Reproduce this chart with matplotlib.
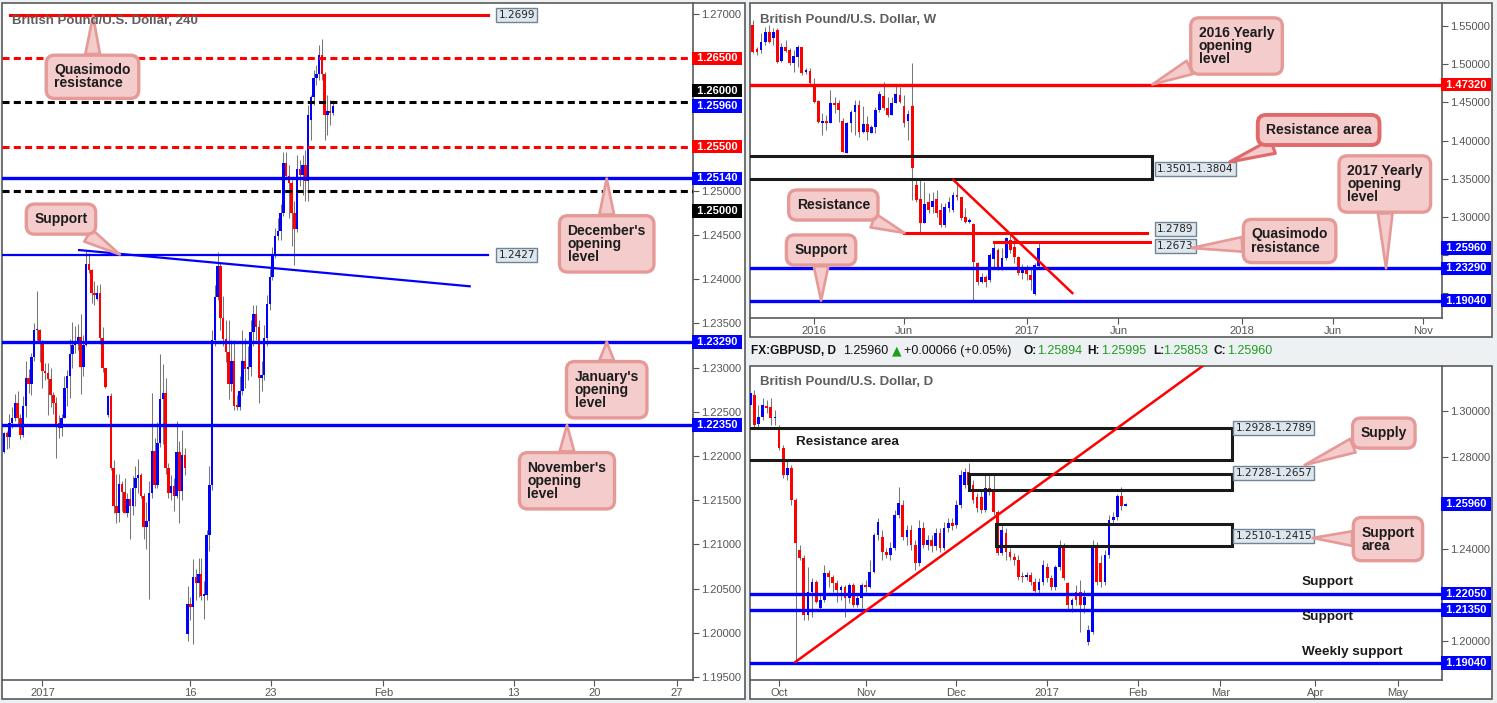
import numpy as np
import matplotlib
matplotlib.use('Agg')
import matplotlib.pyplot as plt
from matplotlib.patches import Rectangle
from matplotlib.ticker import FuncFormatter

plt.rcParams['font.family'] = ['Liberation Sans', 'DejaVu Sans']

# ---------------- 4H candles (British Pound/U.S. Dollar, 240) ----------------
o4 = [1.2204, 1.2226, 1.2222, 1.2237, 1.2243, 1.2260, 1.2243, 1.2224, 1.2257, 1.2288,
      1.2282, 1.2312, 1.2342, 1.2343, 1.2329, 1.2296, 1.2294, 1.2287, 1.2269, 1.2260,
      1.2237, 1.2232, 1.2243, 1.2277, 1.2291, 1.2315, 1.2326, 1.2329, 1.2335, 1.2301,
      1.2326, 1.2417, 1.2411, 1.2384, 1.2378, 1.2384, 1.2334, 1.2300, 1.2246, 1.2268,
      1.2186, 1.2144, 1.2136, 1.2168, 1.2159, 1.2135, 1.2151, 1.2144, 1.2164, 1.2175,
      1.2178, 1.2155, 1.2120, 1.2126, 1.2158, 1.2206, 1.2167, 1.2215, 1.2265, 1.2271,
      1.2186, 1.2158, 1.2166, 1.2155, 1.2205, 1.2160, 1.2201, 1.1999, 1.2033, 1.2029,
      1.2063, 1.2056, 1.2067, 1.2042, 1.2043, 1.2111, 1.2167, 1.2331, 1.2380, 1.2415,
      1.2356, 1.2332, 1.2318, 1.2281, 1.2307, 1.2257, 1.2256, 1.2274, 1.2307, 1.2299,
      1.2301, 1.2340, 1.2361, 1.2346, 1.2288, 1.2292, 1.2333, 1.2372, 1.2403, 1.2426,
      1.2449, 1.2455, 1.2475, 1.2531, 1.2517, 1.2509, 1.2475, 1.2457, 1.2525, 1.2518,
      1.2529, 1.2511, 1.2580, 1.2606, 1.2628, 1.2632, 1.2654, 1.2632, 1.2586, 1.2590,
      1.2588]
c4 = [1.2226, 1.2222, 1.2237, 1.2243, 1.2260, 1.2243, 1.2224, 1.2257, 1.2288, 1.2282,
      1.2312, 1.2342, 1.2343, 1.2329, 1.2296, 1.2294, 1.2287, 1.2269, 1.2260, 1.2235,
      1.2232, 1.2243, 1.2277, 1.2291, 1.2315, 1.2326, 1.2329, 1.2335, 1.2301, 1.2326,
      1.2417, 1.2411, 1.2384, 1.2382, 1.2384, 1.2334, 1.2300, 1.2278, 1.2268, 1.2186,
      1.2144, 1.2136, 1.2168, 1.2159, 1.2135, 1.2151, 1.2144, 1.2164, 1.2175, 1.2178,
      1.2155, 1.2120, 1.2126, 1.2158, 1.2206, 1.2167, 1.2215, 1.2265, 1.2271, 1.2186,
      1.2158, 1.2166, 1.2155, 1.2205, 1.2160, 1.2201, 1.2187, 1.2033, 1.2029, 1.2063,
      1.2056, 1.2067, 1.2042, 1.2043, 1.2111, 1.2167, 1.2331, 1.2380, 1.2415, 1.2356,
      1.2332, 1.2318, 1.2281, 1.2307, 1.2257, 1.2256, 1.2274, 1.2307, 1.2299, 1.2301,
      1.2340, 1.2361, 1.2346, 1.2288, 1.2292, 1.2333, 1.2372, 1.2403, 1.2426, 1.2449,
      1.2455, 1.2475, 1.2531, 1.2517, 1.2509, 1.2475, 1.2457, 1.2525, 1.2518, 1.2529,
      1.2511, 1.2586, 1.2606, 1.2628, 1.2632, 1.2654, 1.2632, 1.2586, 1.2590, 1.2588,
      1.2596]
h4 = [1.2227, 1.2228, 1.2248, 1.2255, 1.2270, 1.2274, 1.2248, 1.2268, 1.2308, 1.2299,
      1.2316, 1.2350, 1.2387, 1.2344, 1.2331, 1.2305, 1.2305, 1.2300, 1.2272, 1.2267,
      1.2246, 1.2248, 1.2291, 1.2297, 1.2332, 1.2352, 1.2347, 1.2349, 1.2361, 1.2337,
      1.2433, 1.2430, 1.2412, 1.2398, 1.2393, 1.2395, 1.2346, 1.2300, 1.2269, 1.2271,
      1.2196, 1.2180, 1.2180, 1.2172, 1.2175, 1.2158, 1.2164, 1.2177, 1.2189, 1.2197,
      1.2181, 1.2158, 1.2148, 1.2172, 1.2271, 1.2220, 1.2238, 1.2315, 1.2304, 1.2288,
      1.2192, 1.2178, 1.2175, 1.2240, 1.2217, 1.2229, 1.2209, 1.2053, 1.2041, 1.2084,
      1.2072, 1.2085, 1.2085, 1.2059, 1.2116, 1.2189, 1.2342, 1.2393, 1.2431, 1.2419,
      1.2381, 1.2354, 1.2354, 1.2331, 1.2331, 1.2269, 1.2291, 1.2342, 1.2333, 1.2325,
      1.2354, 1.2371, 1.2371, 1.2354, 1.2308, 1.2348, 1.2382, 1.2412, 1.2436, 1.2458,
      1.2469, 1.2485, 1.2544, 1.2544, 1.2529, 1.2512, 1.2489, 1.2540, 1.2535, 1.2540,
      1.2546, 1.2597, 1.2608, 1.2637, 1.2642, 1.2665, 1.2672, 1.2634, 1.2608, 1.2603,
      1.2603]
l4 = [1.2203, 1.2208, 1.2209, 1.2232, 1.2240, 1.2235, 1.2219, 1.2221, 1.2244, 1.2271,
      1.2269, 1.2308, 1.2331, 1.2306, 1.2277, 1.2286, 1.2246, 1.2256, 1.2248, 1.2198,
      1.2220, 1.2223, 1.2243, 1.2257, 1.2266, 1.2300, 1.2316, 1.2320, 1.2270, 1.2291,
      1.2325, 1.2407, 1.2373, 1.2371, 1.2376, 1.2327, 1.2295, 1.2277, 1.2244, 1.2184,
      1.2135, 1.2124, 1.2125, 1.2138, 1.2135, 1.2131, 1.2106, 1.2133, 1.2144, 1.2158,
      1.2153, 1.2106, 1.2095, 1.2038, 1.2153, 1.2164, 1.2164, 1.2210, 1.2214, 1.2180,
      1.2152, 1.2150, 1.2138, 1.2152, 1.2124, 1.2150, 1.2178, 1.1991, 1.2014, 1.1987,
      1.2037, 1.2040, 1.2037, 1.2016, 1.2037, 1.2093, 1.2161, 1.2325, 1.2376, 1.2342,
      1.2325, 1.2306, 1.2265, 1.2274, 1.2252, 1.2252, 1.2252, 1.2269, 1.2277, 1.2286,
      1.2291, 1.2325, 1.2331, 1.2260, 1.2274, 1.2286, 1.2325, 1.2365, 1.2399, 1.2424,
      1.2444, 1.2444, 1.2472, 1.2514, 1.2469, 1.2438, 1.2416, 1.2453, 1.2506, 1.2495,
      1.2489, 1.2489, 1.2557, 1.2597, 1.2620, 1.2625, 1.2625, 1.2557, 1.2563, 1.2574,
      1.2586]

# ---------------- weekly candles ----------------
ow = [1.5513, 1.5195, 1.5186, 1.5295, 1.5426, 1.5339, 1.5448, 1.5042, 1.5229, 1.5186,
      1.5011, 1.5090, 1.5229, 1.4894, 1.4915, 1.4741, 1.4518, 1.4235, 1.4256, 1.4235,
      1.4488, 1.4488, 1.4256, 1.3833, 1.4226, 1.4370, 1.4466, 1.4117, 1.4217, 1.4104,
      1.4182, 1.4400, 1.4584, 1.4422, 1.4335, 1.4497, 1.4597, 1.4453, 1.4261, 1.4453,
      1.3419, 1.3231, 1.2926, 1.3201, 1.3127, 1.3231, 1.3092, 1.2896, 1.3114, 1.3092,
      1.3288, 1.3266, 1.2996, 1.2939, 1.2909, 1.2393, 1.2154, 1.2210, 1.2175, 1.2446,
      1.2568, 1.2328, 1.2459, 1.2699, 1.2603, 1.2471, 1.2263, 1.2315, 1.2241, 1.1988,
      1.2359]
cw = [1.5164, 1.5164, 1.5295, 1.5426, 1.5295, 1.5426, 1.5033, 1.5229, 1.5177, 1.5011,
      1.5107, 1.5229, 1.4880, 1.4924, 1.4749, 1.4510, 1.4248, 1.4256, 1.4235, 1.4488,
      1.4466, 1.4400, 1.3855, 1.4226, 1.4370, 1.4466, 1.4117, 1.4217, 1.4117, 1.4182,
      1.4400, 1.4610, 1.4422, 1.4335, 1.4497, 1.4610, 1.4501, 1.4235, 1.4348, 1.3637,
      1.3223, 1.2926, 1.3170, 1.3092, 1.3214, 1.3048, 1.2896, 1.3127, 1.3201, 1.3288,
      1.3258, 1.2983, 1.2939, 1.2961, 1.2415, 1.2154, 1.2219, 1.2154, 1.2502, 1.2590,
      1.2328, 1.2459, 1.2721, 1.2568, 1.2471, 1.2263, 1.2315, 1.2254, 1.2175, 1.2372,
      1.2596]
hw = [1.5579, 1.5229, 1.5404, 1.5491, 1.5513, 1.5469, 1.5469, 1.5273, 1.5317, 1.5208,
      1.5186, 1.5251, 1.5229, 1.4946, 1.4946, 1.4815, 1.4531, 1.4357, 1.4335, 1.4662,
      1.4575, 1.4531, 1.4291, 1.4248, 1.4400, 1.4531, 1.4531, 1.4453, 1.4322, 1.4204,
      1.4444, 1.4654, 1.4771, 1.4575, 1.4575, 1.4728, 1.4706, 1.4597, 1.4400, 1.5020,
      1.3484, 1.3484, 1.3462, 1.3310, 1.3332, 1.3353, 1.3179, 1.3179, 1.3266, 1.3332,
      1.3450, 1.3266, 1.3114, 1.2983, 1.2926, 1.2415, 1.2263, 1.2241, 1.2533, 1.2677,
      1.2590, 1.2590, 1.2734, 1.2764, 1.2734, 1.2489, 1.2380, 1.2372, 1.2350, 1.2402,
      1.2677]
lw_ = [1.5142, 1.5120, 1.5142, 1.5251, 1.5273, 1.5251, 1.5011, 1.5033, 1.5164, 1.4990,
       1.4902, 1.4968, 1.4859, 1.4872, 1.4728, 1.4488, 1.4226, 1.4073, 1.4139, 1.4226,
       1.4357, 1.4248, 1.3855, 1.3833, 1.4117, 1.4073, 1.4052, 1.4095, 1.4008, 1.4095,
       1.4095, 1.4379, 1.4400, 1.4313, 1.4335, 1.4488, 1.4488, 1.4182, 1.4008, 1.3223,
       1.3201, 1.2795, 1.2917, 1.3048, 1.3048, 1.3004, 1.2873, 1.2865, 1.3070, 1.3070,
       1.3223, 1.2961, 1.2917, 1.2926, 1.1914, 1.2110, 1.2141, 1.2080, 1.2154, 1.2315,
       1.2306, 1.2306, 1.2437, 1.2524, 1.2393, 1.2241, 1.2184, 1.2175, 1.2045, 1.1979,
       1.2350]

# ---------------- daily candles ----------------
od = [1.3026, 1.3070, 1.2944, 1.2974, 1.3022, 1.3017, 1.2970, 1.2917, 1.2839, 1.2722,
      1.2752, 1.2613, 1.2396, 1.2361, 1.2113, 1.2213, 1.2257, 1.2143, 1.2178, 1.2296,
      1.2278, 1.2252, 1.2222, 1.2235, 1.2187, 1.2243, 1.2157, 1.2187, 1.2243, 1.2235,
      1.2300, 1.2461, 1.2452, 1.2387, 1.2374, 1.2404, 1.2548, 1.2591, 1.2452, 1.2483,
      1.2417, 1.2339, 1.2491, 1.2417, 1.2439, 1.2413, 1.2470, 1.2404, 1.2491, 1.2513,
      1.2504, 1.2591, 1.2678, 1.2735, 1.2678, 1.2626, 1.2626, 1.2570, 1.2665, 1.2661,
      1.2561, 1.2383, 1.2470, 1.2387, 1.2365, 1.2352, 1.2283, 1.2278, 1.2287, 1.2257,
      1.2222, 1.2257, 1.2322, 1.2274, 1.2235, 1.2322, 1.2413, 1.2252, 1.2157, 1.2213,
      1.2213, 1.2157, 1.1996, 1.2039, 1.2417, 1.2339, 1.2257, 1.2374, 1.2526, 1.2539,
      1.2631, 1.2587]
cd = [1.3078, 1.2939, 1.2974, 1.3026, 1.3013, 1.2970, 1.2974, 1.2839, 1.2722, 1.2752,
      1.2613, 1.2426, 1.2361, 1.2113, 1.2213, 1.2257, 1.2170, 1.2178, 1.2296, 1.2278,
      1.2252, 1.2222, 1.2235, 1.2187, 1.2243, 1.2157, 1.2187, 1.2243, 1.2235, 1.2300,
      1.2461, 1.2517, 1.2387, 1.2374, 1.2404, 1.2548, 1.2600, 1.2452, 1.2483, 1.2417,
      1.2339, 1.2491, 1.2417, 1.2439, 1.2413, 1.2470, 1.2404, 1.2491, 1.2513, 1.2500,
      1.2591, 1.2722, 1.2735, 1.2678, 1.2613, 1.2578, 1.2570, 1.2665, 1.2657, 1.2561,
      1.2383, 1.2483, 1.2387, 1.2365, 1.2352, 1.2278, 1.2278, 1.2287, 1.2257, 1.2217,
      1.2257, 1.2330, 1.2274, 1.2235, 1.2322, 1.2413, 1.2274, 1.2157, 1.2178, 1.2178,
      1.2157, 1.2191, 1.2048, 1.2417, 1.2257, 1.2257, 1.2374, 1.2526, 1.2539, 1.2631,
      1.2587, 1.2596]
hd = [1.3113, 1.3091, 1.3026, 1.3057, 1.3048, 1.3057, 1.3004, 1.2939, 1.2852, 1.2787,
      1.2765, 1.2622, 1.2417, 1.2374, 1.2322, 1.2274, 1.2265, 1.2209, 1.2330, 1.2309,
      1.2287, 1.2265, 1.2243, 1.2243, 1.2252, 1.2252, 1.2200, 1.2252, 1.2265, 1.2352,
      1.2470, 1.2535, 1.2483, 1.2404, 1.2430, 1.2570, 1.2670, 1.2613, 1.2504, 1.2504,
      1.2439, 1.2526, 1.2517, 1.2461, 1.2461, 1.2491, 1.2491, 1.2517, 1.2535, 1.2535,
      1.2613, 1.2743, 1.2752, 1.2774, 1.2700, 1.2643, 1.2657, 1.2722, 1.2722, 1.2722,
      1.2570, 1.2504, 1.2491, 1.2404, 1.2383, 1.2374, 1.2300, 1.2300, 1.2300, 1.2274,
      1.2274, 1.2352, 1.2339, 1.2287, 1.2330, 1.2439, 1.2426, 1.2257, 1.2187, 1.2243,
      1.2265, 1.2222, 1.2070, 1.2439, 1.2430, 1.2374, 1.2396, 1.2548, 1.2561, 1.2639,
      1.2670, 1.2600]
ld = [1.3004, 1.2926, 1.2926, 1.2961, 1.2991, 1.2939, 1.2939, 1.2830, 1.2709, 1.2700,
      1.2591, 1.1909, 1.2352, 1.2091, 1.2091, 1.2104, 1.2165, 1.2135, 1.2170, 1.2235,
      1.2213, 1.2170, 1.2178, 1.2104, 1.2165, 1.2148, 1.2148, 1.2143, 1.2213, 1.2230,
      1.2296, 1.2439, 1.2352, 1.2361, 1.2352, 1.2396, 1.2535, 1.2439, 1.2417, 1.2396,
      1.2309, 1.2326, 1.2404, 1.2396, 1.2387, 1.2396, 1.2387, 1.2396, 1.2474, 1.2483,
      1.2491, 1.2578, 1.2665, 1.2665, 1.2600, 1.2561, 1.2557, 1.2561, 1.2635, 1.2548,
      1.2374, 1.2374, 1.2352, 1.2352, 1.2330, 1.2265, 1.2257, 1.2265, 1.2243, 1.2213,
      1.2209, 1.2243, 1.2257, 1.2222, 1.2222, 1.2309, 1.2265, 1.2135, 1.2126, 1.2157,
      1.2039, 1.2122, 1.1983, 1.2030, 1.2243, 1.2235, 1.2243, 1.2361, 1.2513, 1.2526,
      1.2570, 1.2585]

last_price = 1.2596

# levels, 4H
qm_4h = 1.2699
red_dash_4h = [1.2650, 1.2550]
black_dash_4h = [1.2600, 1.2500]
blue_4h = [1.2514, 1.2329, 1.2235]
support_4h = 1.2427
trend4_x = [27.4, 170.0]
trend4_y = [1.2433, 1.2392]
ticks4 = ['2017', '16', '23', 'Feb', '13', '20', '27']

# levels, weekly
yearly_2016 = 1.4732
res_area_w = [1.3501, 1.3804]
res_w = 1.2789
qm_w = 1.2673
blue_w = [1.2329, 1.1904]
trendw_x = [34.1, 63.2]
trendw_y = [1.3484, 1.2005]
ticksw = ['2016', 'Jun', '2017', 'Jun', '2018', 'Jun', 'Nov']

# levels, daily
res_area_d = [1.2789, 1.2928]
supply_d = [1.2657, 1.2728]
sup_area_d = [1.2415, 1.2510]
blue_d = [1.2205, 1.2135, 1.1904]
trendd_x = [4.0, 102.7]
trendd_y = [1.1909, 1.3196]
ticksd = ['Oct', 'Nov', 'Dec', '2017', 'Feb', 'Mar', 'Apr', 'May']

RED, BLUE = '#ff0000', '#0000ff'
W, H = 1497, 703
fig = plt.figure(figsize=(W / 100, H / 100), dpi=100, facecolor='#eef1f4')


def rect(x0, y0, x1, y1):
    return [x0 / W, 1 - y1 / H, (x1 - x0) / W, (y1 - y0) / H]


# white panel frames
for x0, y0, x1, y1 in [(2, 3, 745, 699), (750, 3, 1492, 337), (750, 366, 1492, 699)]:
    fig.add_artist(Rectangle((x0 / W, 1 - y1 / H), (x1 - x0) / W, (y1 - y0) / H,
                             transform=fig.transFigure, fc='white', ec='#5a5a5a',
                             lw=1.2, zorder=-5))


def setup(ax, xlim, ylim, yticks, xticks, xlabels, hidden=()):
    ax.set_xlim(*xlim)
    ax.set_ylim(*ylim)
    ax.set_facecolor('none')
    for s in ['top', 'left']:
        ax.spines[s].set_visible(False)
    for s in ['right', 'bottom']:
        ax.spines[s].set_color('#5a5a5a')
        ax.spines[s].set_linewidth(1.2)
    ax.yaxis.tick_right()
    ax.set_yticks(yticks)
    # labels that sit under a price tag are left blank
    ax.yaxis.set_major_formatter(FuncFormatter(
        lambda v, pos: '' if any(abs(v - hv) < 1e-6 for hv in hidden) else '%.5f' % v))
    ax.set_xticks(xticks, xlabels)
    ax.tick_params(axis='both', colors='#555555', labelsize=8, length=4, width=0.8, pad=2)


def candles(ax, x, o, h, l, c, w, min_body):
    o, h, l, c = map(np.asarray, (o, h, l, c))
    col = np.where(c >= o, BLUE, RED)
    ax.vlines(x, l, h, color='#777777', lw=0.75, zorder=2)
    body = np.maximum(np.abs(c - o), min_body)
    ax.bar(x, body, w, bottom=np.minimum(o, c), color=col, lw=0, zorder=3)


def tag(ax, y, color, dy=0):
    ax.annotate(' %.5f ' % y, xy=(1, y), xycoords=ax.get_yaxis_transform(),
                xytext=(0.6, dy), textcoords='offset points', ha='left', va='center',
                fontsize=8, fontweight='bold', color='white', zorder=15,
                bbox=dict(boxstyle='square,pad=0.15', fc=color, ec=color, lw=0),
                annotation_clip=False)


def range_label(ax, x, y, text, dy=0):
    ax.annotate(text, xy=(x, y), xytext=(0, dy), textcoords='offset points',
                ha='left', va='center', fontsize=7.5, color='#222222', zorder=11,
                family='DejaVu Sans',
                bbox=dict(boxstyle='square,pad=0.2', fc='#dfe7ee', ec='#6f8597', lw=1),
                annotation_clip=False)


def callout(ax, text, box, tip, ec='#e69a98', lw=2.4):
    ax.annotate(text, xy=tip, xytext=box, ha='center', va='center',
                multialignment='left', fontsize=10, fontweight='bold',
                color='#1c1c1c', linespacing=0.92, zorder=12,
                bbox=dict(boxstyle='round,pad=0.58,rounding_size=0.6',
                          fc='#f4cccc', ec=ec, lw=lw),
                arrowprops=dict(arrowstyle='wedge,tail_width=1.05,shrink_factor=0.5',
                                fc='#f4cccc', ec=ec, lw=lw * 0.8, shrinkA=0, shrinkB=0),
                annotation_clip=False)


def title(px, py, text):
    fig.text(px / W, 1 - py / H, text, ha='left', va='center', fontsize=9.5,
             fontweight='bold', color='#5e5e5e', zorder=20)


dash = (0, (2.3, 1.4))

# ================= 4H panel =================
ax1 = fig.add_axes(rect(2, 3, 693, 680))
setup(ax1, (-0.73, 251.5), (1.19466, 1.27125), np.arange(1.195, 1.2701, 0.005),
      [14, 68, 97.5, 138.5, 186, 215.5, 245.5], ticks4, hidden=(1.255, 1.26, 1.265))
candles(ax1, np.arange(len(o4)), o4, h4, l4, c4, 0.9, 0.00017)

for y in red_dash_4h:
    ax1.axhline(y, color=RED, lw=2.2, ls=dash, zorder=4)
for y in black_dash_4h:
    ax1.axhline(y, color='black', lw=2.2, ls=dash, zorder=4)
for y in blue_4h:
    ax1.axhline(y, color=BLUE, lw=2.4, zorder=4)
ax1.plot([2.2, 176.6], [qm_4h, qm_4h], color=RED, lw=2.2, zorder=4)
ax1.plot([-1, 176.6], [support_4h, support_4h], color=BLUE, lw=1.6, zorder=4)
ax1.plot(trend4_x, trend4_y, color=BLUE, lw=1.6, zorder=4)
range_label(ax1, 180.5, qm_4h, '1.2699')
range_label(ax1, 180.5, support_4h, '1.2427')

tag(ax1, 1.2650, RED)
tag(ax1, 1.2600, 'black', 8.5)
tag(ax1, last_price, BLUE)
tag(ax1, 1.2550, RED)
tag(ax1, 1.2514, BLUE)
tag(ax1, 1.2500, 'black', -14.5)
tag(ax1, 1.2329, BLUE)
tag(ax1, 1.2235, BLUE)

callout(ax1, 'Quasimodo\nresistance', (32.3, 1.2629), (32.5, 1.2698))
callout(ax1, 'Support', (20.8, 1.2468), (42.3, 1.2428))
callout(ax1, "December's\nopening\nlevel", (220.0, 1.2440), (220.0, 1.2514))
callout(ax1, "January's\nopening\nlevel", (220.0, 1.2275), (220.0, 1.2329))
callout(ax1, "November's\nopening\nlevel", (205.5, 1.2172), (205.5, 1.2235))
title(12, 21, 'British Pound/U.S. Dollar, 240')

# ================= weekly panel =================
axw = fig.add_axes(rect(750, 3, 1442, 318))
setup(axw, (-15.7, 153.7), (1.1678, 1.5801), np.arange(1.20, 1.5501, 0.05),
      [0, 22, 52, 74.5, 104.7, 127, 149], ticksw, hidden=(1.20, 1.25))
candles(axw, np.arange(len(ow)) - 15, ow, hw, lw_, cw, 0.68, 0.002)

axw.axhline(yearly_2016, color=RED, lw=2.4, zorder=4)
for y in blue_w:
    axw.axhline(y, color=BLUE, lw=2.4, zorder=4)
axw.add_patch(Rectangle((-20, res_area_w[0]), 102.6, res_area_w[1] - res_area_w[0],
                        fill=False, ec='#1a1a1a', lw=2.2, zorder=4))
axw.plot([22.1, 81.6], [res_w, res_w], color=RED, lw=2.2, zorder=4)
axw.plot([44.1, 82.1], [qm_w, qm_w], color=RED, lw=2.2, zorder=4)
axw.plot(trendw_x, trendw_y, color=RED, lw=1.8, zorder=4)
range_label(axw, 84.0, sum(res_area_w) / 2, '1.3501-1.3804', -1.5)
range_label(axw, 84.0, res_w, '1.2789', 3)
range_label(axw, 84.0, qm_w, '1.2673', -3)

tag(axw, yearly_2016, RED)
tag(axw, last_price, BLUE)
tag(axw, 1.2329, BLUE)
tag(axw, 1.1904, BLUE)

callout(axw, '2016 Yearly\nopening\nlevel', (103.4, 1.5238), (82.8, 1.4735))
callout(axw, 'Resistance area', (123.5, 1.4139), (101.7, 1.3720), ec='#e06a6a', lw=2.8)
callout(axw, 'Quasimodo\nresistance', (116.4, 1.2686), (92.4, 1.2594))
callout(axw, '2017 Yearly\nopening\nlevel', (139.7, 1.3432), (140.0, 1.2329))
callout(axw, 'Resistance', (4.7, 1.3157), (22.1, 1.2792))
callout(axw, 'Support', (1.7, 1.2568), (1.7, 1.1906))
title(760, 20, 'British Pound/U.S. Dollar, W')

# ================= daily panel =================
axd = fig.add_axes(rect(750, 366, 1442, 680))
setup(axd, (-7.04, 160.7), (1.1830, 1.3196), np.arange(1.20, 1.3001, 0.02),
      [0, 21, 43, 65, 87, 107, 130, 150], ticksd, hidden=(1.22, 1.26))
candles(axd, np.arange(len(od)) - 7, od, hd, ld, cd, 0.68, 0.0006)

for y in blue_d:
    axd.axhline(y, color=BLUE, lw=2.4, zorder=4)
for x0, (y0, y1) in [(-10, res_area_d), (46.1, supply_d), (52.7, sup_area_d)]:
    axd.add_patch(Rectangle((x0, y0), 109.7 - x0, y1 - y0, fill=False,
                            ec='#1a1a1a', lw=2.2, zorder=4))
axd.plot(trendd_x, trendd_y, color=RED, lw=1.8, zorder=4)
range_label(axd, 110.6, 1.2926, '1.2928-1.2789')
range_label(axd, 110.6, 1.2730, '1.2728-1.2657')
range_label(axd, 110.6, 1.2457, '1.2510-1.2415')

tag(axd, last_price, BLUE)
for y in blue_d:
    tag(axd, y, BLUE)

txt = dict(fontsize=9.7, fontweight='bold', color='#1c1c1c', ha='left', va='center', zorder=6)
axd.text(4.1, 1.2865, 'Resistance area', **txt)
axd.text(126.7, 1.2257, 'Support', **txt)
axd.text(126.7, 1.2104, 'Support', **txt)
axd.text(126.7, 1.1952, 'Weekly support', **txt)

callout(axd, 'Supply', (146.6, 1.2904), (127.4, 1.2765))
callout(axd, 'Support\narea', (147.6, 1.2443), (129.4, 1.2448))
title(760, 382, 'British Pound/U.S. Dollar, D')

# header line above the daily chart
GREEN = '#1f9e1f'
header = [(751, 'FX:GBPUSD, D', 'bold', '#111111'), (843, '1.25960', 'normal', '#111111'),
          (892, '\u25b2', 'normal', GREEN), (904, '+0.00066 (+0.05%)', 'normal', '#111111'),
          (1023, 'O:', 'bold', '#111111'), (1037, '1.25894', 'normal', GREEN),
          (1087, 'H:', 'bold', '#111111'), (1101, '1.25995', 'normal', GREEN),
          (1153, 'L:', 'bold', '#111111'), (1163, '1.25853', 'normal', GREEN),
          (1214, 'C:', 'bold', '#111111'), (1227, '1.25960', 'normal', GREEN)]
for px, s, wt, col in header:
    fam = ['DejaVu Sans'] if s == '\u25b2' else ['Liberation Sans', 'DejaVu Sans']
    fig.text(px / W, 1 - 351 / H, s, ha='left', va='center',
             fontsize=8.6 if wt == 'bold' else 9, fontweight=wt, color=col, family=fam)

fig.savefig('out.png', dpi=100, facecolor=fig.get_facecolor())
